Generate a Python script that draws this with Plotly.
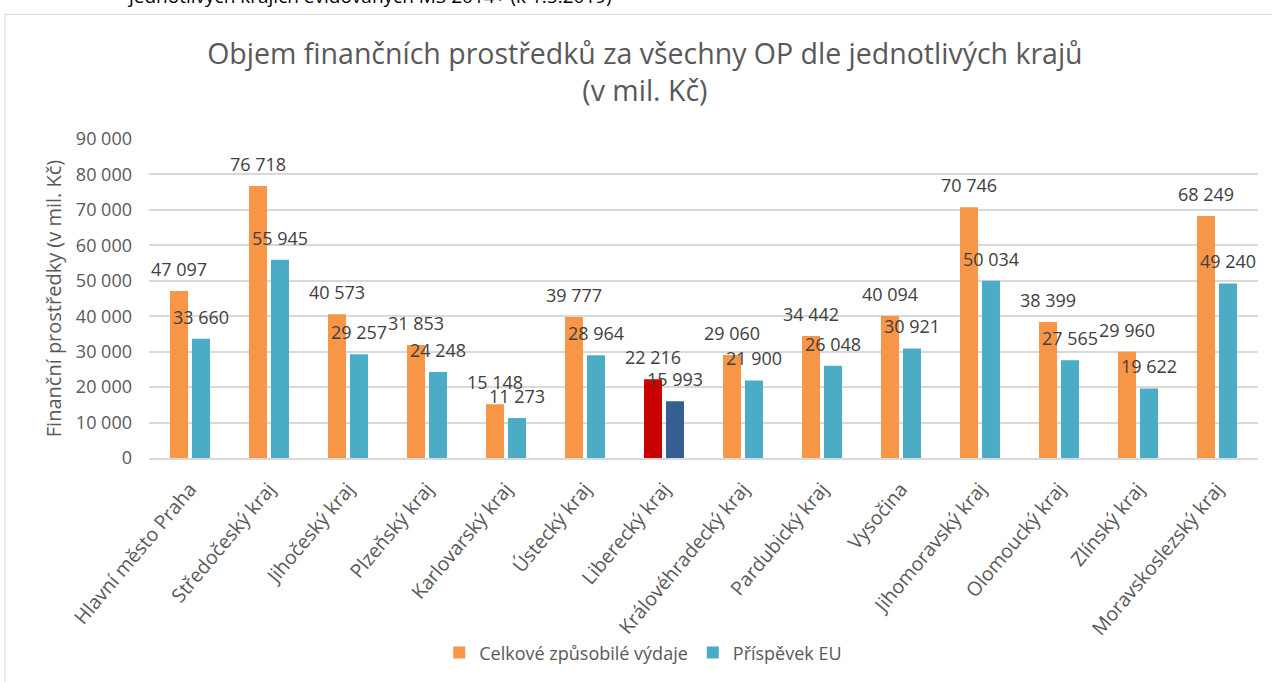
import plotly.graph_objects as go

# ---- data ----
regions = [
    "Hlavní město Praha", "Středočeský kraj", "Jihočeský kraj", "Plzeňský kraj",
    "Karlovarský kraj", "Ústecký kraj", "Liberecký kraj", "Královéhradecký kraj",
    "Pardubický kraj", "Vysočina", "Jihomoravský kraj", "Olomoucký kraj",
    "Zlínský kraj", "Moravskoslezský kraj",
]
total_eligible = [47097, 76718, 40573, 31853, 15148, 39777, 22216, 29060,
                  34442, 40094, 70746, 38399, 29960, 68249]
eu_contribution = [33660, 55945, 29257, 24248, 11273, 28964, 15993, 21900,
                   26048, 30921, 50034, 27565, 19622, 49240]
series_names = ["Celkové způsobilé výdaje", "Příspěvek EU"]
highlight_region = "Liberecký kraj"
y_ticks = [0, 10000, 20000, 30000, 40000, 50000, 60000, 70000, 80000, 90000]

title_text = "Objem finančních prostředků za všechny OP dle jednotlivých krajů<br>(v mil. Kč)"
y_title = "Finanční prostředky (v mil. Kč)"
cut_text = "jednotlivých krajích evidovaných MS 2014+ (k 1.5.2019)"

# ---- style ----
ORANGE, BLUE = "#F79646", "#4BACC6"
RED, DARKBLUE = "#C80000", "#355F91"
FONT = "Open Sans"
GRID = "#d9d9d9"


def fmt(v):
    return f"{v:,}".replace(",", " ")


c1 = [RED if r == highlight_region else ORANGE for r in regions]
c2 = [DARKBLUE if r == highlight_region else BLUE for r in regions]

fig = go.Figure()
fig.add_trace(go.Bar(x=regions, y=total_eligible, name=series_names[0],
                     marker=dict(color=c1, line=dict(width=0))))
fig.add_trace(go.Bar(x=regions, y=eu_contribution, name=series_names[1],
                     marker=dict(color=c2, line=dict(width=0))))

annotations = []
for r, a, b in zip(regions, total_eligible, eu_contribution):
    for val, xs in ((a, -11), (b, 11)):
        annotations.append(dict(x=r, y=val, xref="x", yref="y", text=fmt(val),
                                showarrow=False, xshift=xs, yshift=22,
                                yanchor="middle", xanchor="center",
                                font=dict(family=FONT, size=18, color="#404040")))

annotations.append(dict(x=-0.0216, y=1.40, xref="paper", yref="paper",
                        text=cut_text, showarrow=False, xanchor="left",
                        yanchor="bottom",
                        font=dict(family=FONT, size=19, color="#000000")))

fig.update_layout(
    width=1272, height=682,
    margin=dict(l=149, r=14, t=139, b=223),
    paper_bgcolor="white", plot_bgcolor="white",
    separators=", ",
    barmode="group", bargap=0.444, bargroupgap=0.18,
    title=dict(text=title_text, x=0.507, xref="container", xanchor="center",
               y=0.906, yref="container", yanchor="top",
               font=dict(family=FONT, size=28.5, color="#595959")),
    font=dict(family=FONT, color="#595959"),
    showlegend=True,
    legend=dict(orientation="h", x=0.4457, xanchor="center", y=-0.606,
                yanchor="middle", font=dict(family=FONT, size=18, color="#595959"),
                itemsizing="constant", traceorder="normal"),
    annotations=annotations,
    shapes=[dict(type="rect", xref="paper", yref="paper",
                 x0=-0.1299, x1=1.02, y0=-0.78, y1=1.391,
                 line=dict(color=GRID, width=1), layer="below")],
)
fig.update_yaxes(range=[0, 90000], tickvals=y_ticks, tickformat=",d",
                 automargin=False,
                 showgrid=True, gridcolor=GRID, gridwidth=1.5, zeroline=False,
                 ticks="", ticklabelstandoff=16,
                 tickfont=dict(family=FONT, size=18, color="#595959"),
                 title=dict(text=y_title, standoff=8,
                            font=dict(family=FONT, size=20, color="#595959")))
fig.update_xaxes(tickangle=-50, showline=True, linecolor=GRID, linewidth=2,
                 automargin=False, ticks="", ticklabelstandoff=10,
                 tickfont=dict(family=FONT, size=19.5, color="#595959"))

fig.write_html("out.html", config={"displayModeBar": False},
               post_script="document.body.style.margin='0';document.body.style.overflow='hidden';")
